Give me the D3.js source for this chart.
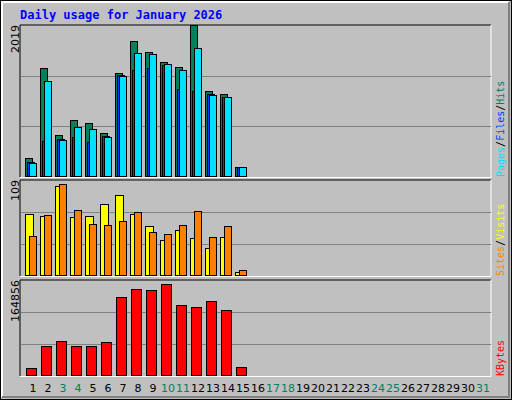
<!DOCTYPE html>
<html><head><meta charset="utf-8">
<script src="https://cdn.jsdelivr.net/npm/d3@7"></script>
<style>body{margin:0;background:#fff}</style>
</head><body><div id="wrapper"></div>
<script>
// DATA
const days = d3.range(1, 32);
const weekendDays = [3, 4, 10, 11, 17, 18, 24, 25, 31];
const hits = [254, 1444, 560, 762, 722, 588, 1377, 1805, 1658, 1524, 1457, 2019, 1136, 1096, 134];
const files = [200, 480, 508, 535, 468, 548, 1350, 1417, 1444, 1484, 1163, 1136, 1096, 1056, 134];
const pages = [187, 1270, 495, 668, 642, 535, 1337, 1644, 1631, 1497, 1417, 1711, 1083, 1056, 134];
const visits = [70, 68, 102, 67, 68, 82, 92, 70, 57, 41, 52, 43, 32, 44, 5];
const sites = [45, 69, 104, 75, 59, 58, 62, 73, 50, 48, 58, 74, 44, 57, 7];
const kbytes = [13700, 51500, 60100, 51500, 51500, 58400, 135600, 149400, 147700, 158000, 121900, 118500, 128800, 113300, 15500];
const maxLabels = [`2019`, `109`, `164856`];

const W = 512, H = 400;
const left = 20, right = 491;
const svg = d3.select(`#wrapper`).append(`svg`).attr(`width`, W).attr(`height`, H)
  .style(`font-family`, `"DejaVu Sans", sans-serif`);

// FRAME
svg.append(`rect`).attr(`x`, 0.5).attr(`y`, 0.5).attr(`width`, W - 1).attr(`height`, H - 1)
  .attr(`fill`, `#c0c0c0`).attr(`stroke`, `#000`);
svg.append(`path`).attr(`d`, `M2,${H - 3}V2H${W - 3}`).attr(`stroke`, `#fff`).attr(`stroke-width`, 2).attr(`fill`, `none`);
svg.append(`path`).attr(`d`, `M2,${H - 3}H${W - 3}V2`).attr(`stroke`, `#808080`).attr(`stroke-width`, 2).attr(`fill`, `none`);

svg.append(`text`).attr(`x`, 20).attr(`y`, 19).text(`Daily usage for January 2026`)
  .attr(`fill`, `#0000ff`).attr(`font-family`, `"DejaVu Sans Mono", monospace`)
  .attr(`font-weight`, `bold`).attr(`font-size`, 12);

const xScale = d3.scaleLinear().domain([1, 31]).range([25, 25 + 15 * 30]);

const panels = [
  { top: 25, bottom: 177, max: 2019, label: maxLabels[0] },
  { top: 180, bottom: 276, max: 109, label: maxLabels[1] },
  { top: 280, bottom: 376, max: 164856, label: maxLabels[2] }
];

panels.forEach(p => {
  p.y = d3.scaleLinear().domain([0, p.max]).range([p.bottom, p.top]);
  svg.append(`path`).attr(`d`, `M${left},${p.bottom}V${p.top}H${right}`).attr(`stroke`, `#000`).attr(`fill`, `none`);
  svg.append(`path`).attr(`d`, `M${left},${p.bottom + 0.5}H${right}V${p.top}`).attr(`stroke`, `#fff`).attr(`fill`, `none`);
  [1, 2].forEach(k => {
    const gy = Math.round(p.y(p.max * k / 3)) + 0.5;
    svg.append(`line`).attr(`x1`, left + 1).attr(`x2`, right).attr(`y1`, gy).attr(`y2`, gy)
      .attr(`stroke`, `#808080`);
  });
  svg.append(`text`).attr(`transform`, `translate(19,${p.top}) rotate(-90)`)
    .attr(`text-anchor`, `end`).attr(`font-size`, 11).attr(`fill`, `#000`).text(p.label);
});

const drawBars = (panel, data, offset, width, fill) => {
  svg.append(`g`).selectAll(`rect`).data(data).join(`rect`)
    .attr(`x`, (d, i) => xScale(i + 1) + offset + 0.5)
    .attr(`y`, d => Math.round(panel.y(d)) + 0.5)
    .attr(`width`, width)
    .attr(`height`, d => panel.bottom - Math.round(panel.y(d)) - 1)
    .attr(`fill`, fill).attr(`stroke`, `#000`);
};

drawBars(panels[0], hits, 0, 7, `#00805c`);
drawBars(panels[0], files, 2, 7, `#0040ff`);
drawBars(panels[0], pages, 4, 7, `#00e0ff`);
drawBars(panels[1], visits, 0, 8, `#ffff00`);
drawBars(panels[1], sites, 4, 7, `#ff8000`);
drawBars(panels[2], kbytes, 1, 10, `#ff0000`);

// X LABELS
svg.append(`g`).selectAll(`text`).data(days).join(`text`)
  .attr(`x`, d => xScale(d) + 8).attr(`y`, 392).attr(`text-anchor`, `middle`)
  .attr(`font-size`, 11)
  .attr(`fill`, d => weekendDays.includes(d) ? `#00805c` : `#000`).text(d => d);

// LEGENDS
const legend = (y, parts) => {
  const t = svg.append(`text`).attr(`transform`, `translate(504,${y}) rotate(-90)`)
    .attr(`font-family`, `"DejaVu Sans Mono", monospace`).attr(`font-size`, 10);
  parts.forEach(([txt, c]) => t.append(`tspan`).attr(`fill`, c).text(txt));
};
legend(177, [[`Pages`, `#00e0ff`], [`/`, `#000`], [`Files`, `#0040ff`], [`/`, `#000`], [`Hits`, `#00805c`]]);
legend(276, [[`Sites`, `#ff8000`], [`/`, `#000`], [`Visits`, `#ffff00`]]);
legend(376, [[`KBytes`, `#ff0000`]]);
</script></body></html>
